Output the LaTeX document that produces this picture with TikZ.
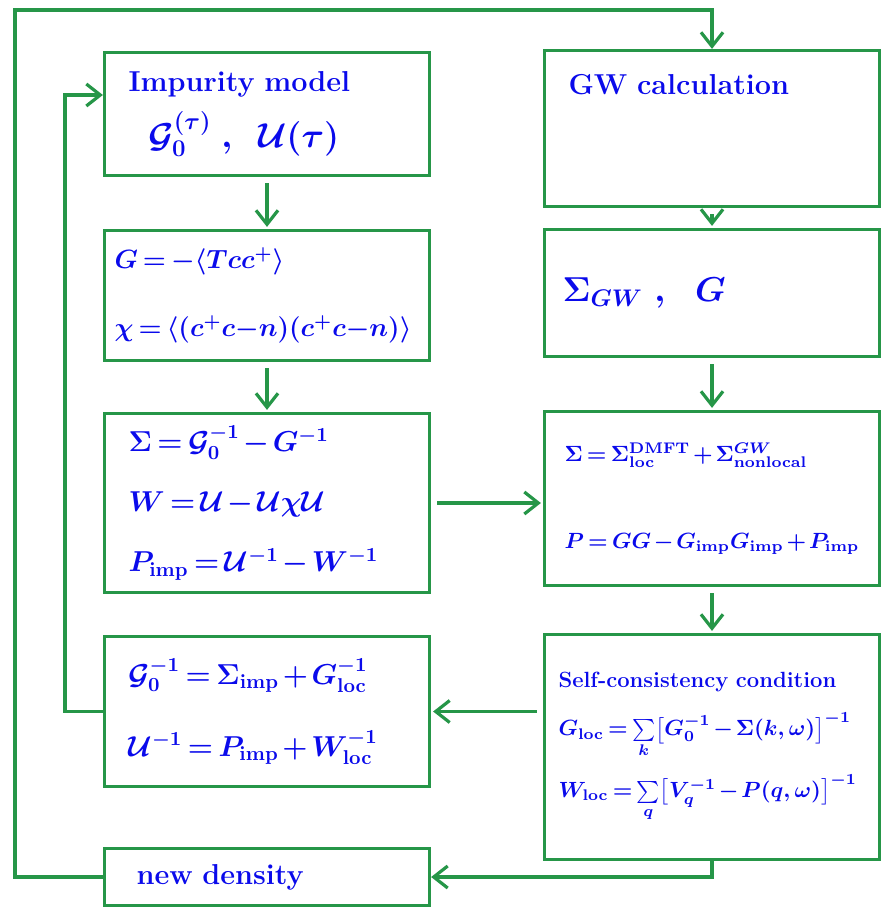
\RequirePackage{fix-cm}
\documentclass[tikz,border=0pt]{standalone}
\usepackage{amsmath,amssymb}
\usepackage{tikz}
\usetikzlibrary{arrows.meta,calc,positioning}
\definecolor{boxgreen}{RGB}{38,150,72}
\definecolor{inkblue}{RGB}{10,10,235}
\protected\def\tightmath{\thickmuskip=3mu\relax\medmuskip=2mu\relax\bfseries\boldmath}
\tikzset{>={Straight Barb[length=7pt,width=11pt]}}
\tikzset{
  box/.style={draw=boxgreen, line width=1.6pt, fill=white, inner xsep=12pt, align=left, text=inkblue,
    font=\Large\tightmath},
  lbox/.style={box, text width=138.5pt},
  rbox/.style={box, text width=143.5pt},
  arrow/.style={->, draw=boxgreen, line width=1.6pt},
  flow/.style={arrow, shorten <=3pt, shorten >=1pt},
}

\begin{document}
\begin{tikzpicture}[x=0.5pt,y=-0.5pt]
    \useasboundingbox (0,0) rectangle (888,914);
    % left column
    \node[lbox, minimum height=61.5pt] (impmodel) at (267,114)
    {Impurity model\\[6pt]\hspace*{10pt}{\LARGE$\mathcal{G}_0^{(\tau)}\ ,\ \ \mathcal{U}(\tau)$}};
    \node[lbox, below=25.9pt of impmodel, minimum height=65pt, inner xsep=5pt, text width=152.5pt,
      font=\fontsize{13.2}{16}\selectfont\tightmath] (greenfn)
    {\mbox{$G = -\langle T c c^{+}\rangle$}\\[18pt]\mbox{$\chi = \langle (c^{+}c{-}n)(c^{+}c{-}n)\rangle$}};
    \node[lbox, below=24.9pt of greenfn, minimum height=89.5pt] (selfimp)
    {$\Sigma = \mathcal{G}_0^{-1} - G^{-1}$\\[12pt]$W = \mathcal{U} - \mathcal{U}\chi\mathcal{U}$\\[12pt]$P_{\mathrm{imp}} = \mathcal{U}^{-1} - W^{-1}$};
    \node[lbox, below=20.4pt of selfimp, minimum height=75pt] (weiss)
    {$\mathcal{G}_0^{-1} = \Sigma_{\mathrm{imp}} + G_{\mathrm{loc}}^{-1}$\\[18pt]$\mathcal{U}^{-1} = P_{\mathrm{imp}} + W_{\mathrm{loc}}^{-1}$};
    \node[lbox, below=29.4pt of weiss, minimum height=28.5pt, inner xsep=16pt, text width=130.5pt] (density) {new density};

    % right column
    \node[rbox, text height=12pt, text depth=46pt, inner ysep=10pt] (gwcalc) at (712,128.5) {GW calculation};
    \node[rbox, below=9.9pt of gwcalc, minimum height=63.5pt, inner xsep=9pt, text width=149.5pt, font=\LARGE\tightmath] (siggw)
    {$\Sigma_{GW}\ ,\ \ G$};
    \node[rbox, below=25.9pt of siggw, minimum height=87pt, inner xsep=10pt, text width=147.5pt,
      font=\fontsize{11}{13.5}\selectfont\tightmath] (sigtot)
    {\mbox{$\Sigma = \Sigma_{\mathrm{loc}}^{\mathrm{DMFT}} + \Sigma_{\mathrm{nonlocal}}^{GW}$}\\[30pt]\mbox{$P = GG - G_{\mathrm{imp}}G_{\mathrm{imp}} + P_{\mathrm{imp}}$}};
    \node[rbox, below=22.9pt of sigtot, minimum height=112.5pt, inner xsep=7pt, text width=153.5pt,
      font=\fontsize{11}{13.5}\selectfont\tightmath] (selfcons)
    {\mbox{Self-consistency condition}\\[9pt]\mbox{$G_{\mathrm{loc}} = \sum\limits_{k}\bigl[G_0^{-1} - \Sigma(k,\omega)\bigr]^{-1}$}\\[7pt]\mbox{$W_{\mathrm{loc}} = \sum\limits_{q}\bigl[V_q^{-1} - P(q,\omega)\bigr]^{-1}$}};

    % connectors
    \draw[flow] (impmodel) -- (greenfn);
    \draw[flow] (greenfn) -- (selfimp);
    \draw[flow] (selfimp.east) -- (selfimp.east -| sigtot.west);
    \draw[flow] (gwcalc) -- (siggw);
    \draw[flow] (siggw) -- (sigtot);
    \draw[flow] (sigtot) -- (selfcons);
    \draw[flow] (selfcons.west |- weiss.east) -- (weiss.east);
    \draw[arrow] (selfcons.south) |- (density.east);
    \coordinate (outer) at (15,10);
    \draw[arrow] (density.west) -| (outer) -| (gwcalc.north);
    \coordinate (inner) at (65,95);
    \draw[arrow] (weiss.west) -| (inner) -- (inner -| impmodel.west);
\end{tikzpicture}
\end{document}
